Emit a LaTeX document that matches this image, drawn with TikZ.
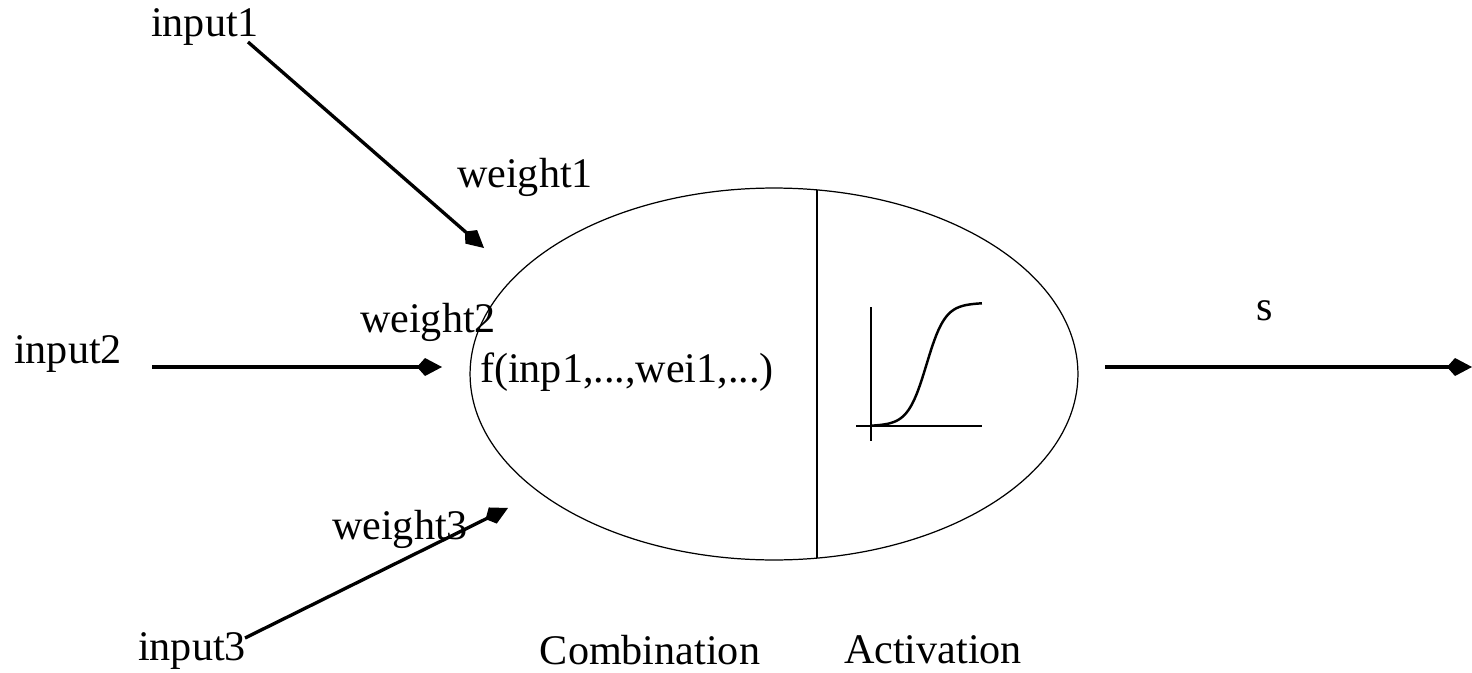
\documentclass[tikz,border=0pt]{standalone}
\usepackage{fontspec}
\setmainfont{Liberation Serif}
\usetikzlibrary{shapes.geometric, arrows.meta, positioning, calc}

\begin{document}
\begin{tikzpicture}[x=0.02cm, y=-0.02cm,
    lbl/.style={inner sep=0pt, font=\fontsize{24}{28}\selectfont},
    wire/.style={line width=1.9pt, -{Kite[length=0.5cm, width=0.36cm, inset=0.16cm]}}]
    \useasboundingbox (0,0) rectangle (1472,673);
    % neuron body
    \node[draw, ellipse, line width=0.7pt, minimum width=12.16cm, minimum height=7.44cm] (neuron) at (774,374) {};
    \draw[line width=0.9pt] (817,190) -- (817,558);
    \node[lbl] (comb) at (627,372) {f(inp1,...,wei1,...)};
    % activation curve
    \draw[line width=0.9pt] (871,307) coordinate (axtop) -- (871,441);
    \draw[line width=0.9pt] (856,426) -- (982,426) coordinate (axright);
    \draw[line width=1.4pt, smooth] plot[domain=0:1, samples=60]
        ({871+111*\x}, {426-120/(1+exp(-12*(\x-0.5)))-3*\x});
    % inputs and weights
    \node[lbl] (in1) at (205,27) {input1};
    \node[lbl] (in2) at (68,354) {input2};
    \node[lbl] (in3) at (192,651) {input3};
    \node[lbl] (w1) at (525,177) {weight1};
    \node[lbl] (w2) at (428,322) {weight2};
    \node[lbl] (w3) at (400,529) {weight3};
    \node[lbl] (out) at (1265,311) {s};
    \node[lbl] (combtxt) at (650,650) {Combination};
    \node[lbl] (acttxt) at (933,650) {Activation};
    \coordinate (t1) at (248,42);   \coordinate (h1) at (484,248);
    \coordinate (t2) at (152,367);  \coordinate (h2) at (442,367);
    \coordinate (t3) at (245,638);  \coordinate (h3) at (508,508);
    \coordinate (t4) at (1105,367); \coordinate (h4) at (1472,367);
    \draw[wire] (t1) -- (h1);
    \draw[wire] (t2) -- (h2);
    \draw[wire] (t3) -- (h3);
    \draw[wire] (t4) -- (h4);
\end{tikzpicture}
\end{document}
